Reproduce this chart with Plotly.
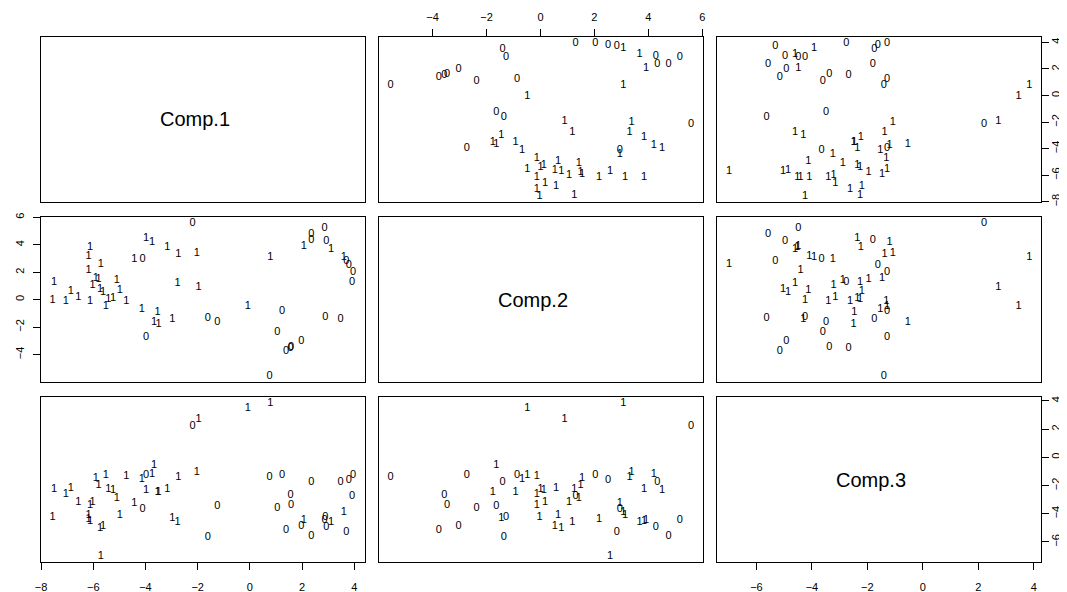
import plotly.graph_objects as go

# ---- data (pairs plot of three components) ----
labels = ["0"] * 22 + ["1"] * 39

comp1 = [-2.20, 2.86, 2.35, 2.35, 2.93, -4.11, 3.69, 3.79, 3.95, 3.91,
         2.89, -1.61, -1.25, 3.47, 1.23, 1.05, -3.98, 1.97, 1.39, 1.58,
         1.56, 0.75,
         0.78, -0.08, -1.97, -2.03, 2.07, 3.11, 3.60, -3.98, -3.75, -3.16,
         -2.74, -6.12, -6.18, -4.43, -5.71, -6.18, -5.90, -5.80, -5.10, -7.50,
         -2.77, -6.03, -5.74, -4.98, -6.86, -5.62, -6.57, -5.24, -5.42, -7.56,
         -7.05, -6.12, -4.73, -5.52, -4.14, -3.54, -2.97, -3.67, -3.50]

comp2 = [5.58, 5.17, 4.75, 4.33, 4.28, 2.94, 2.83, 2.51, 2.03, 1.30,
         -1.28, -1.36, -1.64, -1.41, -0.87, -2.37, -2.73, -3.04, -3.77, -3.46,
         -3.57, -5.56,
         3.07, -0.49, 0.89, 3.38, 3.91, 3.67, 3.07, 4.51, 4.20, 3.84,
         3.30, 3.84, 3.14, 2.94, 2.58, 2.17, 1.54, 1.49, 1.42, 1.25,
         1.18, 1.06, 0.77, 0.65, 0.58, 0.53, 0.17, 0.12, 0.00, -0.03,
         -0.14, -0.14, -0.14, -0.49, -0.68, -0.92, -1.45, -1.64, -1.77]

comp3 = [2.21, -4.49, -5.58, -1.80, -4.97, -3.65, -5.32, -1.62, -1.29, -2.76,
         -4.25, -5.64, -3.49, -1.75, -1.29, -3.61, -1.29, -4.92, -5.16, -3.37,
         -2.68, -1.41,
         3.84, 3.45, 2.72, -1.08, -4.49, -4.61, -3.92, -2.36, -1.20, -2.24,
         -1.38, -4.53, -4.09, -3.25, -6.99, -4.41, -1.47, -1.96, -2.89, -2.26,
         -4.61, -3.22, -5.04, -4.13, -2.20, -4.86, -3.16, -2.36, -2.26, -4.25,
         -2.62, -3.41, -1.32, -1.29, -1.53, -2.47, -4.31, -0.54, -2.50]

var_names = ["Comp.1", "Comp.2", "Comp.3"]
tick_vals = [[-8, -6, -4, -2, 0, 2, 4],
             [-4, -2, 0, 2, 4, 6],
             [-6, -4, -2, 0, 2, 4]]

data = [comp1, comp2, comp3]


def padded(v):
    lo, hi = min(v), max(v)
    d = (hi - lo) * 0.04
    return [lo - d, hi + d]


ranges = [padded(v) for v in data]

W, H = 1067, 592
OFF = 8.0  # the page body adds an 8 px margin; compensate
col_px = [(40.5, 365.0), (378.5, 703.0), (717.0, 1041.3)]
row_px = [(37.0, 202.0), (217.0, 382.0), (397.0, 562.0)]
FONT = "Liberation Sans, Arial, Helvetica, sans-serif"

fig = go.Figure()
layout = {}
annotations = []


def tickstyle(standoff):
    return dict(ticks="outside", ticklen=7, tickwidth=1, tickcolor="black",
                showticklabels=True,
                tickfont=dict(size=11, color="black", family=FONT),
                ticklabelstandoff=standoff)


for i in range(3):
    for j in range(3):
        n = i * 3 + j + 1
        sfx = "" if n == 1 else str(n)
        xd = [(col_px[j][0] - OFF) / W, (col_px[j][1] - OFF) / W]
        yd = [1 - (row_px[i][1] - OFF) / H, 1 - (row_px[i][0] - OFF) / H]
        common = dict(showline=True, mirror=True, linecolor="black", linewidth=1,
                      showgrid=False, zeroline=False, ticks="", showticklabels=False,
                      fixedrange=True, automargin=False)

        xaxis = dict(domain=xd, range=ranges[j], anchor="y" + sfx, **common)
        yaxis = dict(domain=yd, range=ranges[i], anchor="x" + sfx, **common)
        if i == 2 and j in (0, 2):
            xaxis.update(tickstyle(8), tickvals=tick_vals[j], side="bottom")
        if i == 0 and j == 1:
            xaxis.update(tickstyle(4), tickvals=tick_vals[j], side="top")
        if j == 0 and i == 1:
            yaxis.update(tickstyle(4), tickvals=tick_vals[i], side="left", tickangle=-90)
        if j == 2 and i in (0, 2):
            yaxis.update(tickstyle(-3), tickvals=tick_vals[i], side="right", tickangle=-90)
        layout["xaxis" + sfx] = xaxis
        layout["yaxis" + sfx] = yaxis

        if i != j:
            fig.add_trace(go.Scatter(
                x=data[j], y=data[i], mode="text", text=labels,
                textposition="middle center",
                textfont=dict(size=11, color="black", family=FONT),
                xaxis="x" + sfx, yaxis="y" + sfx,
                hoverinfo="skip", showlegend=False))
        else:
            # invisible trace so the diagonal panel (box + axes) is drawn
            fig.add_trace(go.Scatter(
                x=data[j], y=data[i], mode="markers",
                marker=dict(opacity=0, size=1),
                xaxis="x" + sfx, yaxis="y" + sfx,
                hoverinfo="skip", showlegend=False))
            annotations.append(dict(
                text=var_names[i], xref="x" + sfx + " domain", yref="y" + sfx + " domain",
                x=0.5, y=0.5, xanchor="center", yanchor="middle", showarrow=False,
                xshift=-8,
                font=dict(size=20, color="black", family=FONT)))

fig.update_layout(**layout)
fig.update_layout(template="none", width=W, height=H,
                  margin=dict(l=0, r=0, t=0, b=0, autoexpand=False),
                  paper_bgcolor="white", plot_bgcolor="white",
                  font=dict(family=FONT, color="black"),
                  annotations=annotations, showlegend=False)

fig.write_html("out.html")
